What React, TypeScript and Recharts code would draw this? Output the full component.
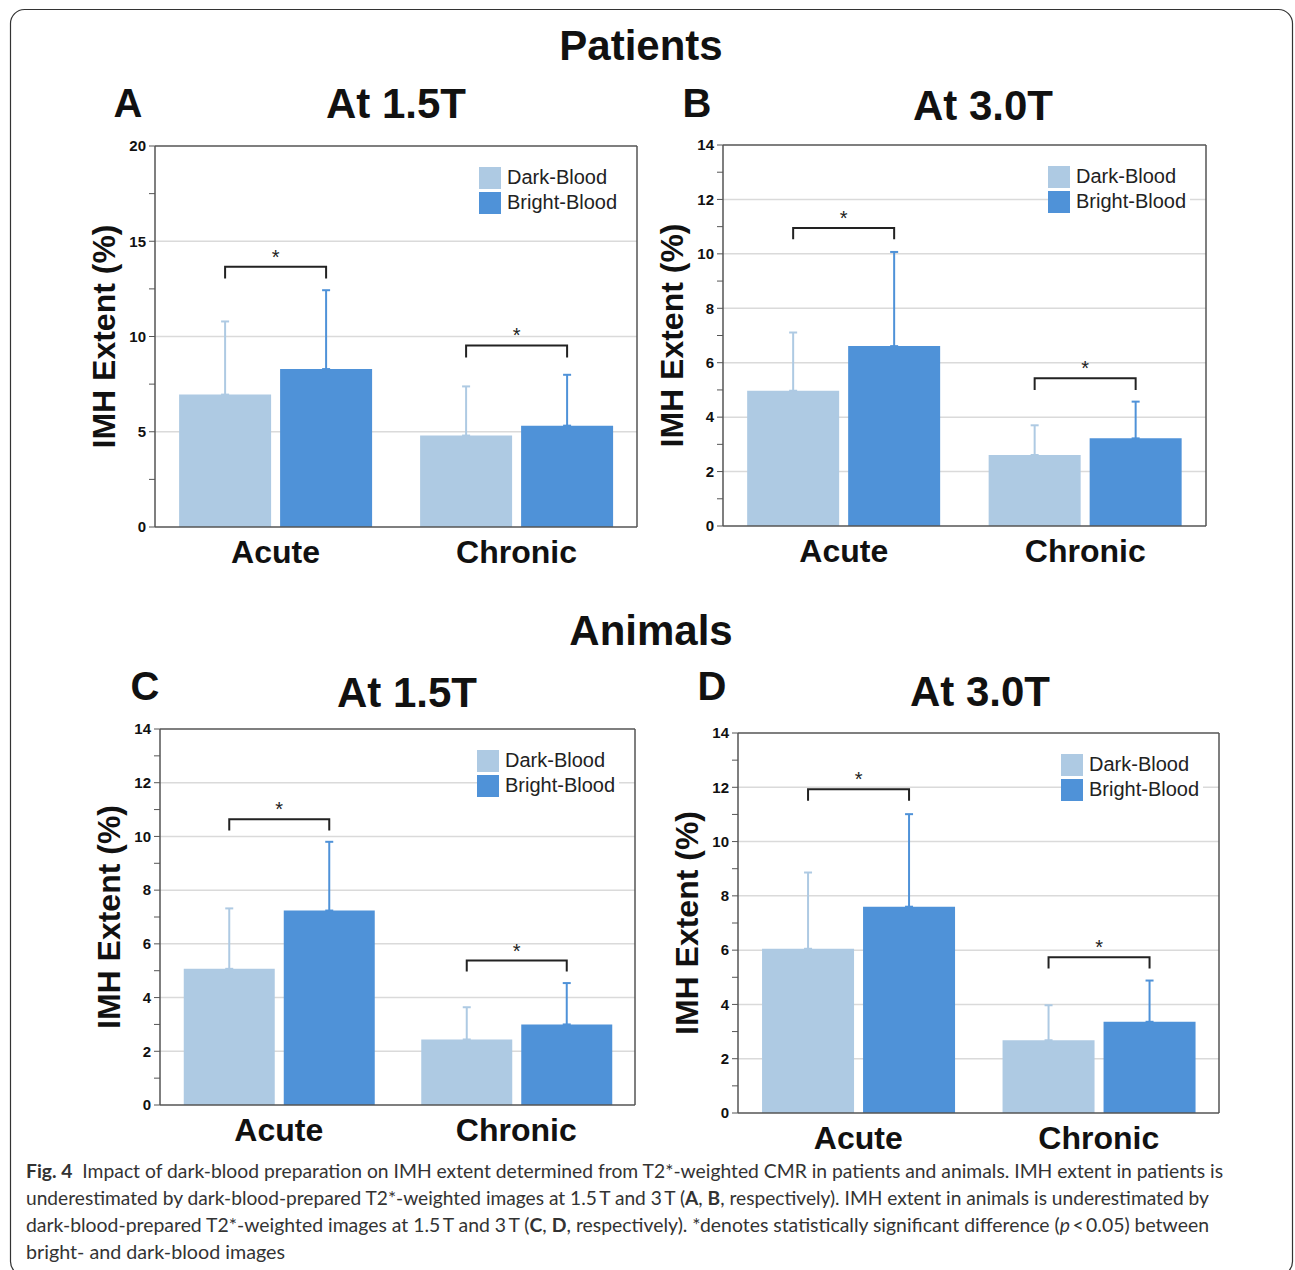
import React from "react";
import { Bar, BarChart, CartesianGrid, ErrorBar, Legend, Rectangle, ReferenceLine, XAxis, YAxis } from "recharts";

const categories = ["Acute", "Chronic"];
const seriesNames = ["Dark-Blood", "Bright-Blood"];

// A: patients at 1.5T
const patients15Dark = [6.95, 4.8];
const patients15DarkSd = [3.84, 2.58];
const patients15Bright = [8.29, 5.32];
const patients15BrightSd = [4.14, 2.67];
const patients15Bracket = [13.66, 9.53];
const patients15Leg = [13.05, 8.9];

// B: patients at 3.0T
const patients30Dark = [4.97, 2.61];
const patients30DarkSd = [2.14, 1.09];
const patients30Bright = [6.61, 3.22];
const patients30BrightSd = [3.46, 1.35];
const patients30Bracket = [10.95, 5.43];
const patients30Leg = [10.54, 5.0];

// C: animals at 1.5T
const animals15Dark = [5.07, 2.44];
const animals15DarkSd = [2.25, 1.2];
const animals15Bright = [7.24, 3.0];
const animals15BrightSd = [2.56, 1.54];
const animals15Bracket = [10.64, 5.38];
const animals15Leg = [10.22, 4.97];

// D: animals at 3.0T
const animals30Dark = [6.05, 2.68];
const animals30DarkSd = [2.81, 1.29];
const animals30Bright = [7.6, 3.36];
const animals30BrightSd = [3.41, 1.52];
const animals30Bracket = [11.93, 5.74];
const animals30Leg = [11.5, 5.32];

const ticks20 = [0, 2.5, 5, 7.5, 10, 12.5, 15, 17.5, 20];
const labels20 = [0, 5, 10, 15, 20];
const grid20 = [5, 10, 15];
const ticks14 = [0, 1, 2, 3, 4, 5, 6, 7, 8, 9, 10, 11, 12, 13, 14];
const labels14 = [0, 2, 4, 6, 8, 10, 12, 14];
const grid14 = [2, 4, 6, 8, 10, 12];

const FONT = "'Liberation Sans', Arial, Helvetica, sans-serif";
const LIGHT = "#aecae3";
const BRIGHT = "#4f92d8";
const FRAME = "#555";
const AXIS_W = 75;
const M_TOP = 16;
const M_RIGHT = 10;
const X_H = 50;
const BAR_GAP = 9;

function renderBright(props: any) {
  const { x, y, width, height, fill, payload } = props;
  const base = y + height;
  const unit = height / payload.bright;
  const by = base - payload.bracket * unit;
  const ly = base - payload.leg * unit;
  const x2 = x + width / 2;
  const x1 = x - BAR_GAP - width / 2;
  return (
    <g>
      <Rectangle x={x} y={y} width={width} height={height} fill={fill} />
      <path d={`M${x1},${ly}V${by}H${x2}V${ly}`} stroke="#222" strokeWidth={2} fill="none" />
      <text x={(x1 + x2) / 2} y={by - 3} textAnchor="middle" fontSize={20} fontFamily={FONT} fill="#222">
        *
      </text>
    </g>
  );
}

function renderXTick(props: any) {
  return (
    <text x={props.x} y={props.y + 36} textAnchor="middle" fontSize={32} fontWeight={700} fontFamily={FONT} fill="#111">
      {props.payload.value}
    </text>
  );
}

function renderYLabel(props: any) {
  const vb = props.viewBox;
  const cx = vb.x + vb.width - 40;
  const cy = vb.y + vb.height / 2;
  return (
    <text
      x={cx}
      y={cy}
      transform={`rotate(-90 ${cx} ${cy})`}
      textAnchor="middle"
      fontSize={32}
      fontWeight={700}
      fontFamily={FONT}
      fill="#111"
    >
      IMH Extent (%)
    </text>
  );
}

function LegendBox({ payload }: { payload?: any[] }) {
  const items = [...(payload || [])].sort((a, b) => seriesNames.indexOf(a.value) - seriesNames.indexOf(b.value));
  return (
    <div style={{ background: "#fff", fontFamily: FONT, fontSize: 20, color: "#222", paddingRight: 4 }}>
      {items.map((e) => (
        <div key={e.value} style={{ display: "flex", alignItems: "center", height: 25 }}>
          <span style={{ width: 22, height: 22, background: e.color, marginRight: 6, display: "inline-block" }} />
          <span>{e.value}</span>
        </div>
      ))}
    </div>
  );
}

type PanelProps = {
  left: number;
  top: number;
  plotW: number;
  plotH: number;
  dark: number[];
  darkSd: number[];
  bright: number[];
  brightSd: number[];
  bracket: number[];
  leg: number[];
  max: number;
  ticks: number[];
  labels: number[];
  grid: number[];
};

function Panel(p: PanelProps) {
  const data = categories.map((cat, i) => ({
    cat,
    dark: p.dark[i],
    darkErr: [0, p.darkSd[i]],
    bright: p.bright[i],
    brightErr: [0, p.brightSd[i]],
    bracket: p.bracket[i],
    leg: p.leg[i],
  }));
  const width = AXIS_W + p.plotW + 1 + M_RIGHT;
  const height = M_TOP + p.plotH + X_H;
  const fmt = (v: number) => (p.labels.includes(v) ? String(v) : "");
  return (
    <div style={{ position: "absolute", left: p.left - AXIS_W, top: p.top - M_TOP }}>
      <BarChart
        width={width}
        height={height}
        data={data}
        margin={{ top: M_TOP, right: M_RIGHT, left: 0, bottom: 0 }}
        barCategoryGap="10%"
        barGap={BAR_GAP}
      >
        <CartesianGrid vertical={false} horizontalValues={p.grid} stroke="#dadada" strokeWidth={1.5} />
        <XAxis
          dataKey="cat"
          height={X_H}
          interval={0}
          tickLine={false}
          tickSize={0}
          tickMargin={0}
          tick={renderXTick}
          axisLine={{ stroke: FRAME, strokeWidth: 1.5 }}
        />
        <YAxis
          domain={[0, p.max]}
          ticks={p.ticks}
          interval={0}
          width={AXIS_W}
          tickSize={6}
          tickMargin={3}
          tickFormatter={fmt}
          tick={{ fontSize: 15, fontWeight: 700, fill: "#111", fontFamily: FONT }}
          tickLine={{ stroke: FRAME }}
          axisLine={{ stroke: FRAME, strokeWidth: 1.5 }}
          label={renderYLabel}
        />
        <YAxis
          yAxisId="right"
          orientation="right"
          domain={[0, p.max]}
          ticks={p.ticks}
          interval={0}
          width={1}
          mirror
          tickSize={6}
          tickFormatter={() => ""}
          tickLine={{ stroke: FRAME }}
          axisLine={{ stroke: FRAME, strokeWidth: 1.5 }}
        />
        <ReferenceLine y={p.max} stroke={FRAME} strokeWidth={1.5} />
        <Legend
          layout="vertical"
          align="center"
          verticalAlign="middle"
          wrapperStyle={{ top: M_TOP + 19, left: AXIS_W + p.plotW - 157, width: "auto", height: "auto" }}
          content={(lp: any) => <LegendBox payload={lp.payload} />}
        />
        <Bar dataKey="dark" name="Dark-Blood" fill={LIGHT} isAnimationActive={false}>
          <ErrorBar dataKey="darkErr" direction="y" width={4} strokeWidth={2} stroke={LIGHT} isAnimationActive={false} />
        </Bar>
        <Bar dataKey="bright" name="Bright-Blood" fill={BRIGHT} isAnimationActive={false} shape={renderBright}>
          <ErrorBar dataKey="brightErr" direction="y" width={4} strokeWidth={2} stroke={BRIGHT} isAnimationActive={false} />
        </Bar>
      </BarChart>
    </div>
  );
}

const titleStyle = { fontFamily: FONT, fontWeight: 700, fill: "#111" } as const;
const capStyle = { fontFamily: "Lato, 'Open Sans', sans-serif", fontSize: 19, fill: "#333", whiteSpace: "pre" } as const;

export default function App() {
  return (
    <div style={{ position: "absolute", left: 0, top: 0, width: 1295, height: 1270, background: "#fff", overflow: "hidden" }}>
      <svg width={1295} height={1270} style={{ position: "absolute", left: 0, top: 0 }}>
        <rect x={10.5} y={9.5} width={1282} height={1266} rx={14} fill="none" stroke="#333" strokeWidth={1.2} />
        <text x={641} y={60} textAnchor="middle" fontSize={42} style={titleStyle}>Patients</text>
        <text x={128} y={117} textAnchor="middle" fontSize={40} style={titleStyle}>A</text>
        <text x={396} y={118} textAnchor="middle" fontSize={42} style={titleStyle}>At 1.5T</text>
        <text x={697} y={117} textAnchor="middle" fontSize={40} style={titleStyle}>B</text>
        <text x={983} y={120} textAnchor="middle" fontSize={42} style={titleStyle}>At 3.0T</text>
        <text x={651} y={645} textAnchor="middle" fontSize={42} style={titleStyle}>Animals</text>
        <text x={145} y={700} textAnchor="middle" fontSize={40} style={titleStyle}>C</text>
        <text x={407} y={707} textAnchor="middle" fontSize={42} style={titleStyle}>At 1.5T</text>
        <text x={712} y={700} textAnchor="middle" fontSize={40} style={titleStyle}>D</text>
        <text x={980} y={706} textAnchor="middle" fontSize={42} style={titleStyle}>At 3.0T</text>

        <text x={26} y={1178} textLength={1197} lengthAdjust="spacingAndGlyphs" style={capStyle}>
          <tspan fontWeight={700}>Fig. 4</tspan>
          {"  Impact of dark-blood preparation on IMH extent determined from T2*-weighted CMR in patients and animals. IMH extent in patients is"}
        </text>
        <text x={26} y={1205} textLength={1183} lengthAdjust="spacingAndGlyphs" style={capStyle}>
          {"underestimated by dark-blood-prepared T2*-weighted images at 1.5\u2009T and 3\u2009T ("}
          <tspan fontWeight={700}>A</tspan>
          {", "}
          <tspan fontWeight={700}>B</tspan>
          {", respectively). IMH extent in animals is underestimated by"}
        </text>
        <text x={26} y={1232} textLength={1183} lengthAdjust="spacingAndGlyphs" style={capStyle}>
          {"dark-blood-prepared T2*-weighted images at 1.5\u2009T and 3\u2009T ("}
          <tspan fontWeight={700}>C</tspan>
          {", "}
          <tspan fontWeight={700}>D</tspan>
          {", respectively). *denotes statistically significant difference ("}
          <tspan fontStyle="italic">p</tspan>
          {"\u2009<\u20090.05) between"}
        </text>
        <text x={26} y={1259} textLength={259} lengthAdjust="spacingAndGlyphs" style={capStyle}>
          bright- and dark-blood images
        </text>
      </svg>

      <Panel left={155} top={146} plotW={481} plotH={381} dark={patients15Dark} darkSd={patients15DarkSd}
        bright={patients15Bright} brightSd={patients15BrightSd} bracket={patients15Bracket} leg={patients15Leg}
        max={20} ticks={ticks20} labels={labels20} grid={grid20} />
      <Panel left={723} top={145} plotW={482} plotH={381} dark={patients30Dark} darkSd={patients30DarkSd}
        bright={patients30Bright} brightSd={patients30BrightSd} bracket={patients30Bracket} leg={patients30Leg}
        max={14} ticks={ticks14} labels={labels14} grid={grid14} />
      <Panel left={160} top={729} plotW={474} plotH={376} dark={animals15Dark} darkSd={animals15DarkSd}
        bright={animals15Bright} brightSd={animals15BrightSd} bracket={animals15Bracket} leg={animals15Leg}
        max={14} ticks={ticks14} labels={labels14} grid={grid14} />
      <Panel left={738} top={733} plotW={480} plotH={380} dark={animals30Dark} darkSd={animals30DarkSd}
        bright={animals30Bright} brightSd={animals30BrightSd} bracket={animals30Bracket} leg={animals30Leg}
        max={14} ticks={ticks14} labels={labels14} grid={grid14} />
    </div>
  );
}
